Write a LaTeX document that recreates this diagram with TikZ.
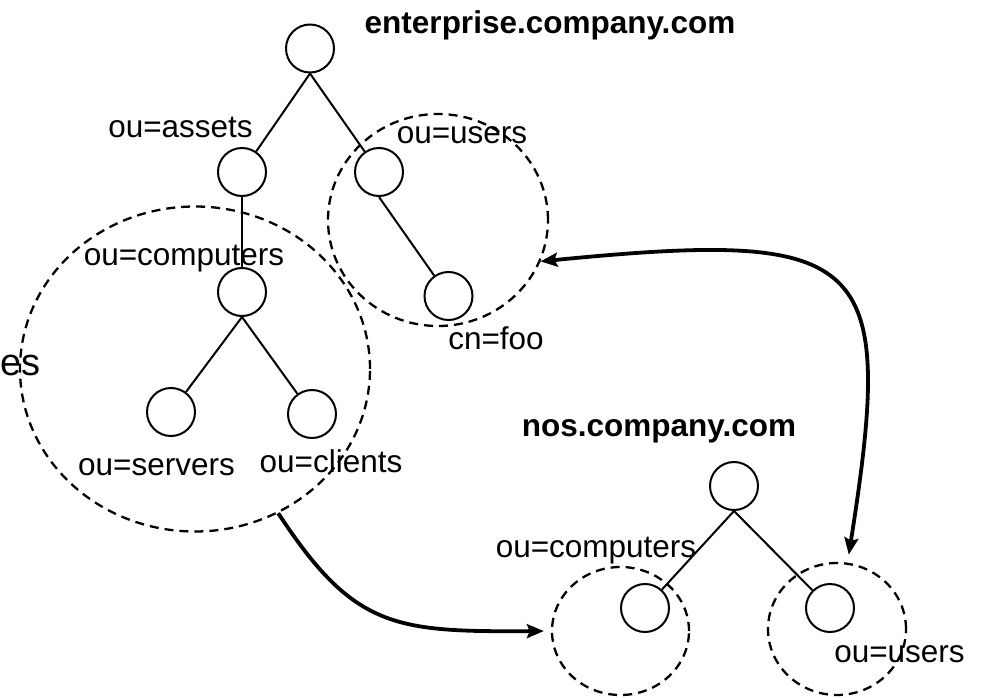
\documentclass[tikz,border=0pt]{standalone}
\usepackage{fontspec}
\setmainfont{Liberation Sans}
\usetikzlibrary{shapes.geometric,arrows.meta}

\tikzset{
  entry/.style={circle, draw, line width=2pt, minimum size=48pt, inner sep=0pt},
  zone/.style={ellipse, draw, line width=2.3pt, dash pattern=on 9pt off 6pt, inner sep=0pt},
  treeline/.style={line width=2pt},
  lbl/.style={anchor=base, inner sep=0pt, font=\fontsize{31.5}{36}\selectfont},
  domainlbl/.style={anchor=base, inner sep=0pt, font=\fontsize{31.5}{36}\selectfont\bfseries},
  maplink/.style={line width=3.8pt, -{Stealth[length=17pt,width=14pt,inset=3pt]}},
  bimaplink/.style={line width=3.8pt, {Stealth[length=17pt,width=14pt,inset=3pt]}-{Stealth[length=17pt,width=14pt,inset=3pt]}}
}

\begin{document}
\begin{tikzpicture}[x=1pt, y=-1pt]
\useasboundingbox (0,0) rectangle (983,698);
\clip (0,0) rectangle (983,698);

% enterprise.company.com tree
\node[domainlbl] (entname) at (550,34) {enterprise.company.com};
\node[entry] (eroot)   at (310,48.5) {};
\node[entry] (assets)  at (242,172) {};
\node[entry] (eusers)  at (379,172) {};
\node[entry] (cnfoo)   at (448.5,296) {};
\node[entry] (ecomp)   at (242,292) {};
\node[entry] (servers) at (171,412) {};
\node[entry] (clients) at (312,414) {};

\draw[treeline] (eroot.south) -- (assets);
\draw[treeline] (eroot.south) -- (eusers);
\draw[treeline] (eusers.south) -- (cnfoo);
\draw[treeline] (assets.south) -- (ecomp.north);
\draw[treeline] (ecomp.south) -- (servers);
\draw[treeline] (ecomp.south) -- (clients);

\node[lbl] (lassets)  at (180.5,138) {ou=assets};
\node[lbl] (leusers)  at (462,144) {ou=users};
\node[lbl] (lecomp)   at (184,265) {ou=computers};
\node[lbl] (lcnfoo)   at (496,349) {cn=foo};
\node[lbl] (lservers) at (156.5,475) {ou=servers};
\node[lbl] (lclients) at (331,472) {ou=clients};
\node[anchor=base west, inner sep=0pt, font=\fontsize{38}{44}\selectfont] (lres) at (0.5,375) {es};

% grouped subtrees
\node[zone, minimum width=220pt, minimum height=212pt] (userzone) at (438,220) {};
\node[zone, minimum width=350pt, minimum height=325pt] (compzone) at (195,369) {};

% nos.company.com tree
\node[domainlbl] (nosname) at (659,436) {nos.company.com};
\node[entry] (nroot)  at (734,486) {};
\node[entry] (ncomp)  at (645,608) {};
\node[entry] (nusers) at (830,608) {};

\draw[treeline] (nroot.south) -- (ncomp);
\draw[treeline] (nroot.south) -- (nusers);

\node[lbl] (lncomp)  at (596,557) {ou=computers};
\node[lbl] (lnusers) at (899.5,662) {ou=users};

\node[zone, minimum width=137pt, minimum height=128pt] (ncompzone)  at (620.5,631) {};
\node[zone, minimum width=138pt, minimum height=132pt] (nuserszone) at (837,629) {};

% mappings between the two directories
\draw[bimaplink, shorten >=8pt] (userzone.-22) .. controls (870,229) and (896,255) .. (nuserszone.81);
\draw[maplink, shorten >=7pt] (compzone.-60) .. controls (354,629) and (395,632) .. (ncompzone.west);
\end{tikzpicture}
\end{document}
